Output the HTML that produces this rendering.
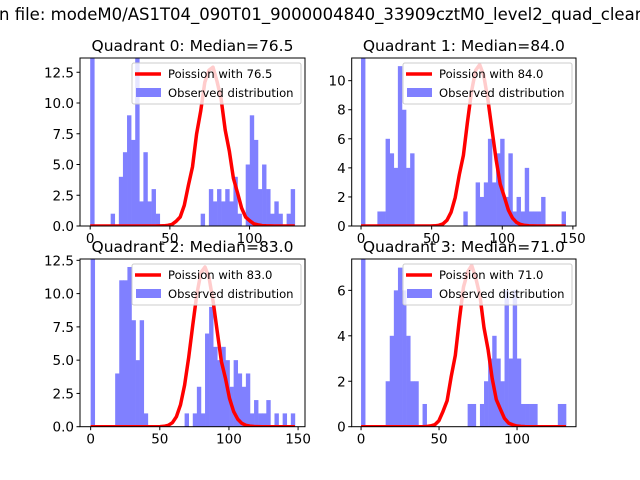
<!DOCTYPE html>
<html><head><meta charset="utf-8"><style>
body{margin:0;background:#fff}
svg{display:block;font-family:"DejaVu Sans","Liberation Sans",sans-serif}
</style></head><body>
<svg id="fig" width="640" height="480" viewBox="0 0 640 480">
<rect width="640" height="480" fill="#fff"/>
<text x="-1" y="20" font-size="16.5">n file: modeM0/AS1T04_090T01_9000004840_33909cztM0_level2_quad_clean</text>
</svg>
<script>
// panel data (histogram counts, 50 bins from 0 to binMax)
const counts0 = [20,0,0,0,0,1,0,4,6,9,7,14,2,6,2,3,1,0,0,0,0,0,0,0,0,0,0,1,0,3,2,3,2,3,2,4,1,0,5,9,7,3,5,3,1,2,1,0,1,3];
const counts1 = [20,0,0,0,1,1,6,5,4,11,8,4,5,0,0,0,0,0,0,0,0,0,0,0,0,1,0,0,3,2,3,6,3,5,6,2,5,1,2,1,4,1,1,1,2,0,0,0,0,1];
const counts2 = [20,0,0,0,0,0,4,11,11,12,8,5,8,1,0,0,0,0,0,0,0,0,0,1,0,1,3,1,7,9,6,5,6,5,3,5,4,3,4,1,2,1,1,2,0,1,0,1,0,1];
const counts3 = [20,0,0,0,0,0,2,4,6,7,6,4,2,2,0,1,0,0,0,0,0,0,0,0,0,0,1,1,0,1,2,3,4,3,2,6,3,6,3,1,1,1,1,0,0,0,0,0,1,1];
const medians = [76.5, 84.0, 83.0, 71.0];
const curvePeaks = [13.0, 11.1, 12.0, 7.1];
const binMaxes = [128.4, 144.9, 147.7, 131.4];
const xTicks0 = [0,50,100];
const xTicks1 = [0,50,100,150];
const xTicks2 = [0,50,100,150];
const xTicks3 = [0,50,100];
const yTicks0 = [0,2.5,5,7.5,10,12.5];
const yTicks1 = [0,2,4,6,8,10];
const yTicks2 = [0,2.5,5,7.5,10,12.5];
const yTicks3 = [0,2,4,6];

const NS="http://www.w3.org/2000/svg";
const svg=document.getElementById('fig');
function mk(tag,attrs,parent){const e=document.createElementNS(NS,tag);for(const k in attrs)e.setAttribute(k,attrs[k]);(parent||svg).appendChild(e);return e;}

const panels=[
 {l:80,r:305,t:58,b:226,xmin:-6.4,xmax:134.8,ymax:13.66,counts:counts0,xt:xTicks0,yt:yTicks0,yfmt:v=>v.toFixed(1)},
 {l:351.7,r:576,t:58,b:226,xmin:-6.6,xmax:152.2,ymax:11.56,counts:counts1,xt:xTicks1,yt:yTicks1,yfmt:v=>String(v)},
 {l:80,r:305,t:259,b:426.7,xmin:-7.7,xmax:155,ymax:12.6,counts:counts2,xt:xTicks2,yt:yTicks2,yfmt:v=>v.toFixed(1)},
 {l:351.7,r:576,t:259,b:426.7,xmin:-6.0,xmax:137.8,ymax:7.38,counts:counts3,xt:xTicks3,yt:yTicks3,yfmt:v=>String(v)}
];
function logPois(k,lam){let s=0;for(let i=2;i<=k;i++)s+=Math.log(i);return k*Math.log(lam)-lam-s;}

panels.forEach((p,i)=>{
 const g=mk('g',{});
 
 
 const clipId='clip'+i;
 const cp=mk('clipPath',{id:clipId},g);mk('rect',{x:p.l,y:p.t,width:p.r-p.l,height:p.b-p.t},cp);
 const X=v=>p.l+(v-p.xmin)/(p.xmax-p.xmin)*(p.r-p.l);
 const Y=v=>p.b-v/p.ymax*(p.b-p.t);
 const plot=mk('g',{'clip-path':'url(#'+clipId+')'},g);
 const n=p.counts.length,bw=binMaxes[i]/n;
 p.counts.forEach((c,k)=>{ if(c<=0)return;
  const r=mk('rect',{x:X(k*bw),y:Y(c),width:X((k+1)*bw)-X(k*bw)+0.3,height:Y(0)-Y(c),fill:'#8080ff'},plot);
  
  
 });
 const lam=medians[i];const pk=Math.exp(logPois(Math.floor(lam),lam));
 let d='';
 for(let k=0;k<=n;k++){const xv=k*bw;const kk=Math.round(xv);const yv=curvePeaks[i]*Math.exp(logPois(kk,lam))/pk;d+=(k?'L':'M')+X(xv).toFixed(1)+','+Y(yv).toFixed(1);}
 const cl=mk('path',{d:d,fill:'none',stroke:'#ff0000','stroke-width':3.5,'stroke-linejoin':'round'},plot);
 
 
 const fr=mk('rect',{x:p.l,y:p.t,width:p.r-p.l,height:p.b-p.t,fill:'none',stroke:'#000','stroke-width':1},g);
 
 
 p.xt.forEach(v=>{const x=X(v);mk('line',{x1:x,x2:x,y1:p.b,y2:p.b+3.5,stroke:'#000'},g);
  const t=mk('text',{x:x,y:p.b+17,'font-size':13.5,'text-anchor':'middle'},g);t.textContent=String(v);
  
  });
 p.yt.forEach(v=>{const y=Y(v);mk('line',{x1:p.l-3.5,x2:p.l,y1:y,y2:y,stroke:'#000'},g);
  const t=mk('text',{x:p.l-6,y:y+5,'font-size':13.5,'text-anchor':'end'},g);t.textContent=p.yfmt(v);
  
  });
 const ti=mk('text',{x:(p.l+p.r)/2,y:p.t-7,'font-size':15.5,'text-anchor':'middle'},g);
 ti.textContent='Quadrant '+i+': Median='+lam.toFixed(1);
 
 
 const lg=mk('g',{},g);
 
 
 const lx=p.r-173,ly=p.t+5;
 mk('rect',{x:lx,y:ly,width:169,height:41,rx:2,fill:'#fff','fill-opacity':0.8,stroke:'#ccc'},lg);
 mk('line',{x1:lx+3,x2:lx+29,y1:ly+11,y2:ly+11,stroke:'#ff0000','stroke-width':3.5},lg);
 const t1=mk('text',{x:lx+36,y:ly+15,'font-size':11.6},lg);t1.textContent='Poission with '+lam.toFixed(1);
 
 
 mk('rect',{x:lx+4,y:ly+25,width:25,height:9,fill:'#8080ff'},lg);
 const t2=mk('text',{x:lx+36,y:ly+34,'font-size':11.6},lg);t2.textContent='Observed distribution';
 
 
});
</script>
</body></html>
